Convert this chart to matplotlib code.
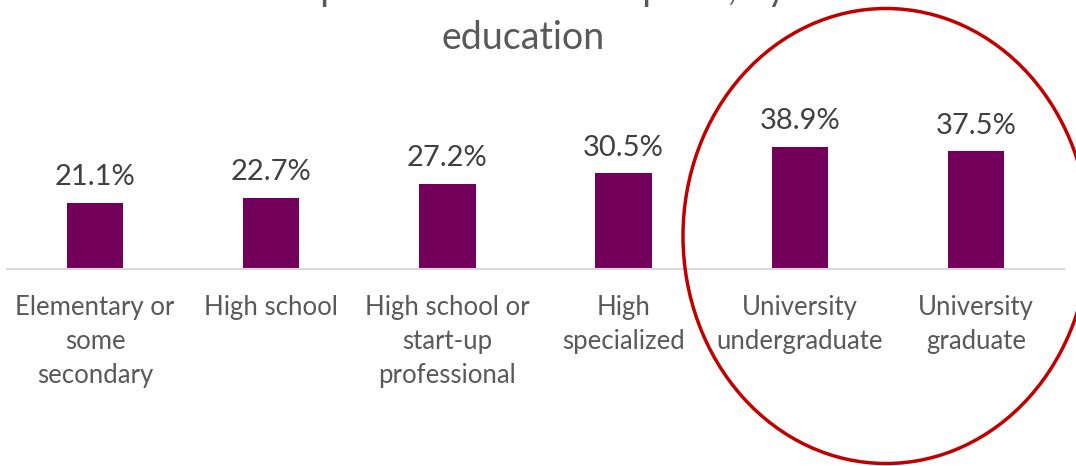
#!/usr/bin/env python3

import matplotlib
matplotlib.use("Agg")
from matplotlib import pyplot as plt
from matplotlib.patches import Ellipse

# Categories and values
categories = ['Elementary or\nsome\nsecondary', 'High school', 'High school or\nstart-up\nprofessional',
              'High\nspecialized', 'University\nundergraduate', 'University\ngraduate']
values = [21.1, 22.7, 27.2, 30.5, 38.9, 37.5]
value_labels = ['21.1%', '22.7%', '27.2%', '30.5%', '38.9%', '37.5%']

plt.rcParams['font.family'] = ['Lato', 'DejaVu Sans']

fig = plt.figure(figsize=(10.76, 4.66), dpi=100)
ax = fig.add_axes([7 / 1076, 197 / 466, 1057 / 1076, 269 / 466])

x = list(range(len(values)))
ax.bar(x, values, width=0.32, color='#72005A', zorder=2)

for xi, v, lab in zip(x, values, value_labels):
    ax.annotate(lab, (xi, v), xytext=(0, 9), textcoords='offset points',
                ha='center', va='bottom', fontsize=21, color='#404040')

ax.set_xlim(-0.5, len(values) - 0.5)
ax.set_ylim(0, 85.7)
ax.set_xticks(x)
ax.set_xticklabels(categories, fontsize=18.5, color='#595959', linespacing=1.45)
ax.tick_params(axis='x', length=0, pad=19)
ax.set_yticks([])
for side in ['top', 'right', 'left']:
    ax.spines[side].set_visible(False)
ax.spines['bottom'].set_color('#d9d9d9')
ax.spines['bottom'].set_linewidth(1.5)

# Title (first line runs off the top of the image)
fig.text(523 / 1076, 1 - 49 / 466, 'Personal experience with corruption, by level of\neducation',
         ha='center', va='baseline', fontsize=27, color='#595959', linespacing=1.45)

# Red highlight circle around the university groups
circle = Ellipse((886 / 1076, 1 - 236 / 466), 406 / 1076, 455 / 466,
                 transform=fig.transFigure, fill=False, edgecolor='#C00000', linewidth=2.5)
fig.add_artist(circle)

fig.savefig('out.png', dpi=100)
